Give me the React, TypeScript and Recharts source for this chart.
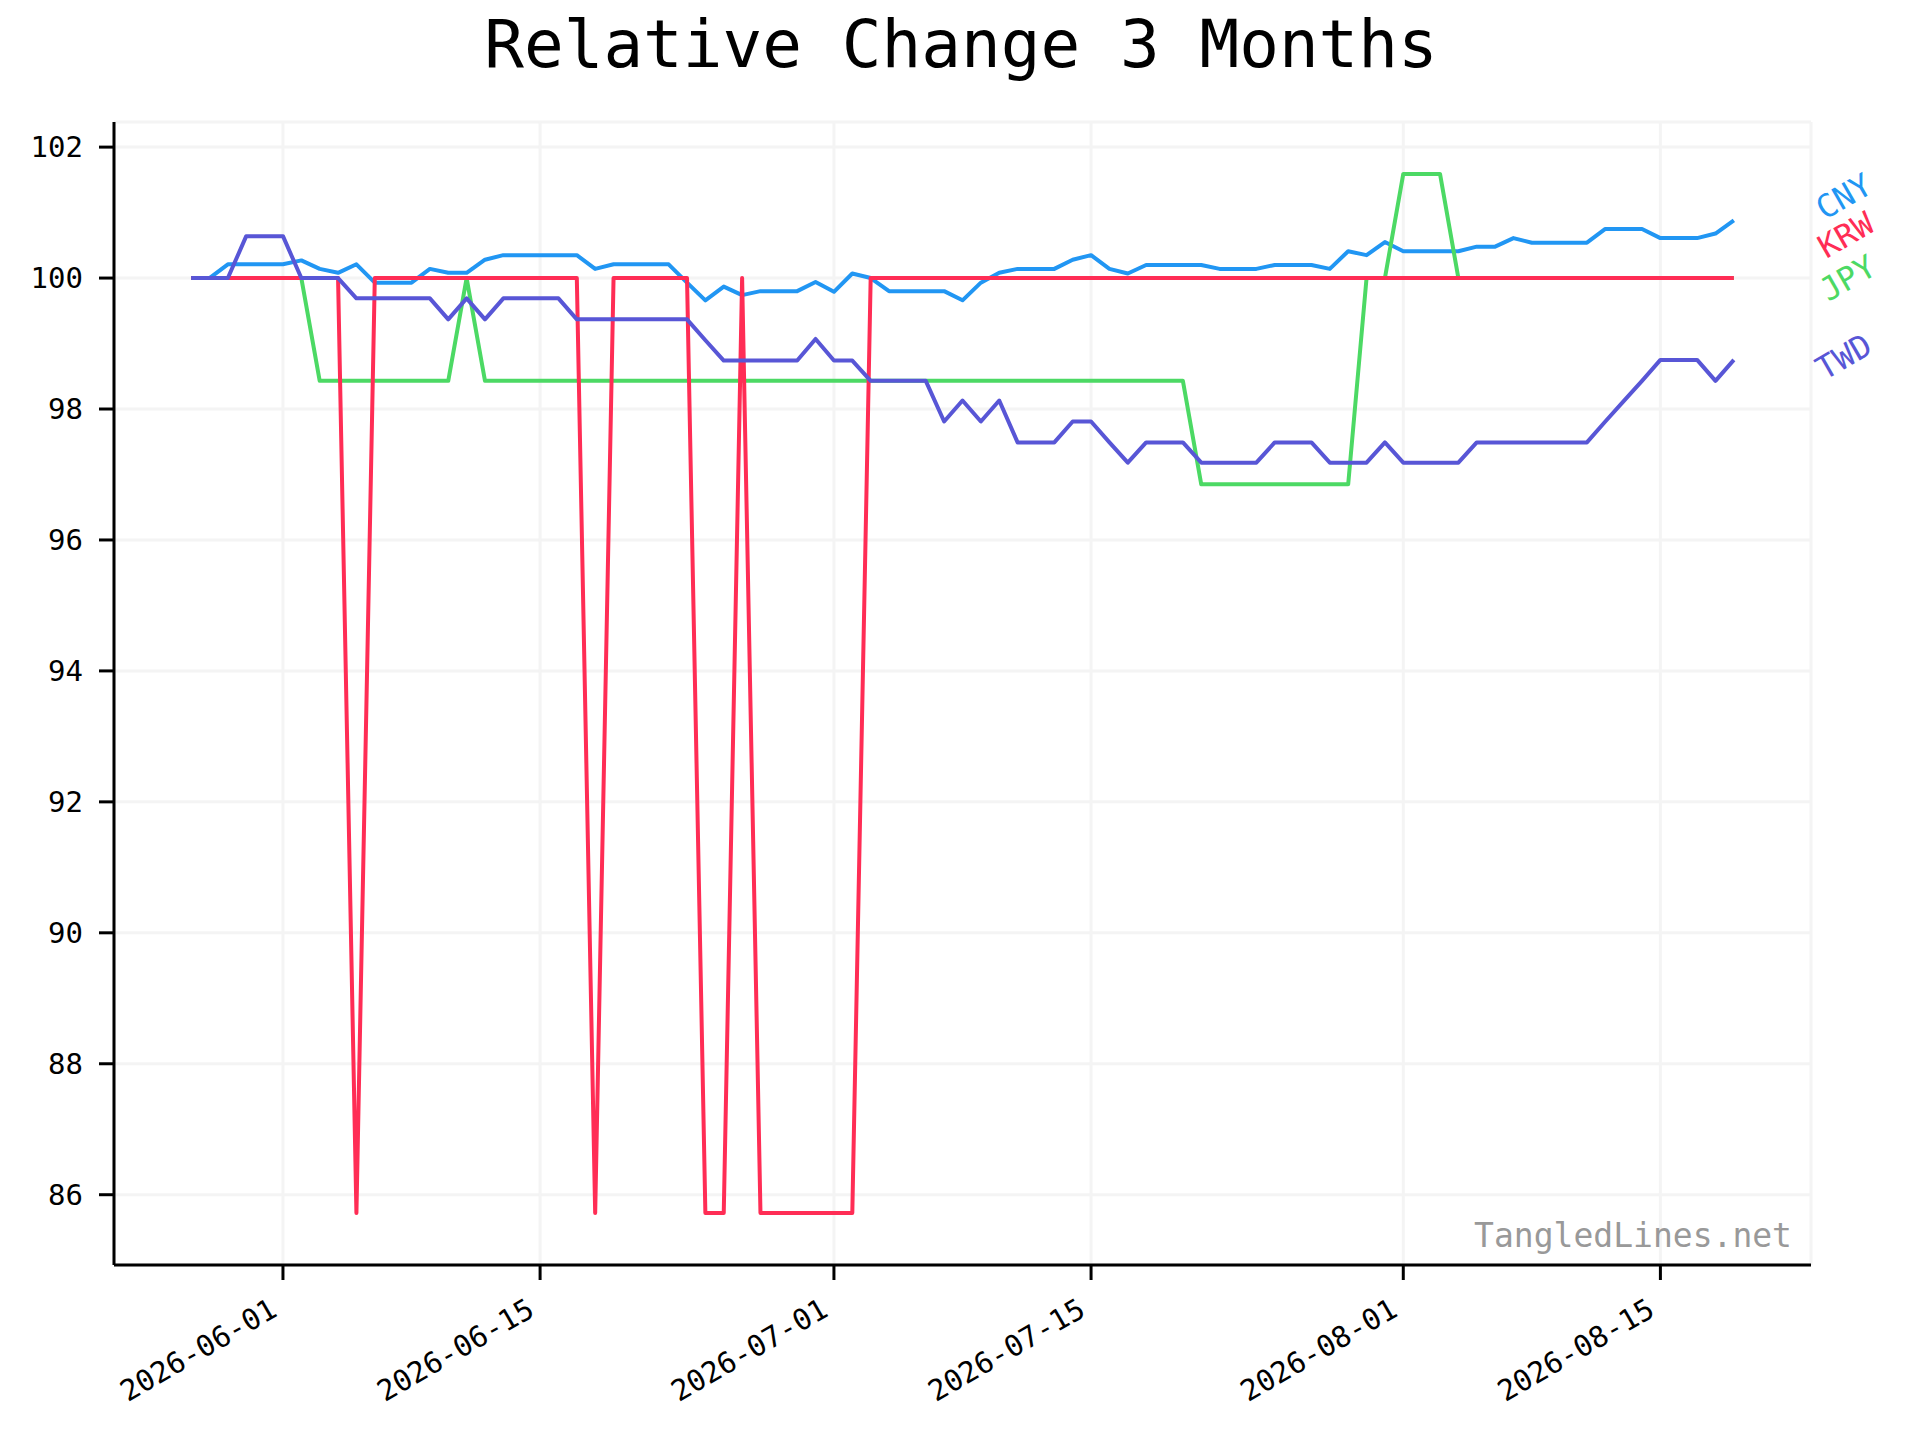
import React from 'react';
import { LineChart, Line, XAxis, YAxis, CartesianGrid } from 'recharts';

// ---- data ----
const START_DATE = '2026-05-27';
const SERIES_NAMES = ['CNY', 'JPY', 'KRW', 'TWD'];

const CNY = [
  100, 100, 100.21, 100.21, 100.21, 100.21, 100.27, 100.14, 100.08, 100.21,
  99.93, 99.93, 99.93, 100.14, 100.08, 100.08, 100.28, 100.35, 100.35, 100.35,
  100.35, 100.35, 100.14, 100.21, 100.21, 100.21, 100.21, 99.93, 99.66, 99.87,
  99.74, 99.8, 99.8, 99.8, 99.94, 99.79, 100.07, 100.0, 99.8, 99.8,
  99.8, 99.8, 99.66, 99.93, 100.08, 100.14, 100.14, 100.14, 100.28, 100.35,
  100.14, 100.07, 100.2, 100.2, 100.2, 100.2, 100.14, 100.14, 100.14, 100.2,
  100.2, 100.2, 100.14, 100.41, 100.35, 100.55, 100.41, 100.41, 100.41, 100.41,
  100.48, 100.48, 100.61, 100.54, 100.54, 100.54, 100.54, 100.75, 100.75, 100.75,
  100.61, 100.61, 100.61, 100.68, 100.88,
];

const KRW = [
  100, 100, 100, 100, 100, 100, 100, 100, 100, 85.72,
  100, 100, 100, 100, 100, 100, 100, 100, 100, 100,
  100, 100, 85.72, 100, 100, 100, 100, 100, 85.72, 85.72,
  100, 85.72, 85.72, 85.72, 85.72, 85.72, 85.72, 100, 100, 100,
  100, 100, 100, 100, 100, 100, 100, 100, 100, 100,
  100, 100, 100, 100, 100, 100, 100, 100, 100, 100,
  100, 100, 100, 100, 100, 100, 100, 100, 100, 100,
  100, 100, 100, 100, 100, 100, 100, 100, 100, 100,
  100, 100, 100, 100, 100,
];

const JPY = [
  100, 100, 100, 100, 100, 100, 100, 98.43, 98.43, 98.43,
  98.43, 98.43, 98.43, 98.43, 98.43, 100, 98.43, 98.43, 98.43, 98.43,
  98.43, 98.43, 98.43, 98.43, 98.43, 98.43, 98.43, 98.43, 98.43, 98.43,
  98.43, 98.43, 98.43, 98.43, 98.43, 98.43, 98.43, 98.43, 98.43, 98.43,
  98.43, 98.43, 98.43, 98.43, 98.43, 98.43, 98.43, 98.43, 98.43, 98.43,
  98.43, 98.43, 98.43, 98.43, 98.43, 96.85, 96.85, 96.85, 96.85, 96.85,
  96.85, 96.85, 96.85, 96.85, 100, 100, 101.59, 101.59, 101.59, 100,
  100, 100, 100, 100, 100, 100, 100, 100, 100, 100,
  100, 100, 100, 100, 100,
];

const TWD = [
  100, 100, 100, 100.64, 100.64, 100.64, 100, 100, 100, 99.69,
  99.69, 99.69, 99.69, 99.69, 99.37, 99.69, 99.37, 99.69, 99.69, 99.69,
  99.69, 99.37, 99.37, 99.37, 99.37, 99.37, 99.37, 99.37, 99.05, 98.74,
  98.74, 98.74, 98.74, 98.74, 99.07, 98.74, 98.74, 98.43, 98.43, 98.43,
  98.43, 97.81, 98.13, 97.81, 98.13, 97.49, 97.49, 97.49, 97.81, 97.81,
  97.49, 97.18, 97.49, 97.49, 97.49, 97.18, 97.18, 97.18, 97.18, 97.49,
  97.49, 97.49, 97.18, 97.18, 97.18, 97.49, 97.18, 97.18, 97.18, 97.18,
  97.49, 97.49, 97.49, 97.49, 97.49, 97.49, 97.49, 97.81, 98.12, 98.43,
  98.75, 98.75, 98.75, 98.43, 98.75,
];

const X_TICK_LABELS = ['2026-06-01', '2026-06-15', '2026-07-01', '2026-07-15', '2026-08-01', '2026-08-15'];
const Y_TICKS = [86, 88, 90, 92, 94, 96, 98, 100, 102];

// ---- styling ----
const COLORS: Record<string, string> = {
  CNY: '#2196F3',
  KRW: '#FF2D55',
  JPY: '#4CD964',
  TWD: '#5856D6',
};
// label offsets relative to the last point of each series
const LABEL_OFFSETS: Record<string, [number, number]> = {
  CNY: [110, -24],
  KRW: [112, -43],
  JPY: [114, 0],
  TWD: [110, -3],
};
const FONT = "'DejaVu Sans Mono', monospace";
const DAY = 86400000;

const t0 = Date.parse(START_DATE + 'T00:00:00Z');
const N = CNY.length;
const data = CNY.map((_, i) => ({
  t: t0 + i * DAY,
  CNY: CNY[i],
  KRW: KRW[i],
  JPY: JPY[i],
  TWD: TWD[i],
}));
const X_TICKS = X_TICK_LABELS.map((s) => Date.parse(s + 'T00:00:00Z'));
const tMin = t0;
const tMax = t0 + (N - 1) * DAY;
const xPad = (tMax - tMin) * 0.05;
const allVals = [...CNY, ...KRW, ...JPY, ...TWD];
const vMin = Math.min(...allVals);
const vMax = Math.max(...allVals);
const yPad = (vMax - vMin) * 0.05;

const fmtDate = (t: number) => new Date(t).toISOString().slice(0, 10);

const XTick = (props: any) => {
  const { x, y, payload } = props;
  return (
    <g transform={`translate(${x - 4},${y + 35})`}>
      <text
        x={0}
        y={0}
        textAnchor="end"
        transform="rotate(-30)"
        fontFamily={FONT}
        fontSize={29}
        fill="#000"
      >
        {fmtDate(payload.value)}
      </text>
    </g>
  );
};

const makeLabel = (name: string) => (props: any) => {
  const { x, y, index } = props;
  if (index !== N - 1 || x == null || y == null) return <g key={`l-${name}-${index}`} />;
  const [dx, dy] = LABEL_OFFSETS[name];
  const cx = x + dx;
  const cy = y + dy;
  return (
    <text
      key={`l-${name}-${index}`}
      x={cx}
      y={cy}
      textAnchor="middle"
      dominantBaseline="central"
      transform={`rotate(-30, ${cx}, ${cy})`}
      fontFamily={FONT}
      fontSize={32}
      fill={COLORS[name]}
    >
      {name}
    </text>
  );
};

export default function App() {
  return (
    <div style={{ position: 'absolute', left: 0, top: 0, width: 1920, height: 1440, background: '#fff' }}>
      <LineChart
        width={1920}
        height={1440}
        data={data}
        margin={{ top: 122, right: 109, bottom: 0, left: 0 }}
      >
        <CartesianGrid stroke="#f4f4f4" strokeWidth={3} />
        <XAxis
          dataKey="t"
          type="number"
          scale="linear"
          domain={[tMin - xPad, tMax + xPad]}
          allowDataOverflow
          ticks={X_TICKS}
          height={175}
          tickSize={15}
          tickMargin={0}
          tick={<XTick />}
          axisLine={{ stroke: '#000', strokeWidth: 3 }}
          tickLine={{ stroke: '#000', strokeWidth: 3 }}
          interval={0}
        />
        <YAxis
          type="number"
          domain={[vMin - yPad, vMax + yPad]}
          allowDataOverflow
          ticks={Y_TICKS}
          width={114}
          tickSize={15}
          tickMargin={16}
          tick={{ fontFamily: FONT, fontSize: 29, fill: '#000' }}
          axisLine={{ stroke: '#000', strokeWidth: 3 }}
          tickLine={{ stroke: '#000', strokeWidth: 3 }}
          interval={0}
        />
        {SERIES_NAMES.map((name) => (
          <Line
            key={name}
            dataKey={name}
            type="linear"
            stroke={COLORS[name]}
            strokeWidth={4}
            strokeLinejoin="round"
            dot={false}
            activeDot={false}
            isAnimationActive={false}
            label={makeLabel(name)}
          />
        ))}
      </LineChart>
      <svg
        width={1920}
        height={1440}
        style={{ position: 'absolute', left: 0, top: 0, pointerEvents: 'none' }}
      >
        <text x={961} y={67} textAnchor="middle" fontFamily={FONT} fontSize={66} fill="#000">
          Relative Change 3 Months
        </text>
        <text x={1792} y={1247} textAnchor="end" fontFamily={FONT} fontSize={33} fill="#999999">
          TangledLines.net
        </text>
      </svg>
    </div>
  );
}
